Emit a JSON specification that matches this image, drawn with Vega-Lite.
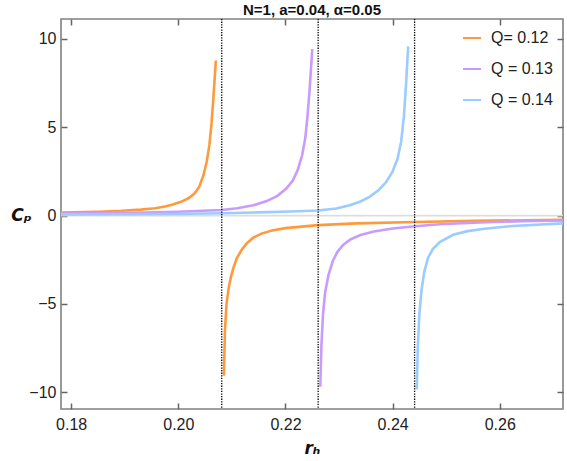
{
  "$schema": "https://vega.github.io/schema/vega-lite/v6.json",
  "autosize": {"type": "none"},
  "padding": {"left": 61, "top": 19, "right": 4, "bottom": 52},
  "width": 502,
  "height": 390,
  "background": "white",
  "title": {"text": "N=1, a=0.04, α=0.05", "fontSize": 15, "fontWeight": "bold", "font": "Liberation Sans", "color": "#111", "anchor": "middle", "offset": 0},
  "config": {
    "view": {"stroke": "#808080", "strokeWidth": 1.6},
    "axis": {"ticks": false, "labelFont": "Liberation Sans", "labelFontSize": 16, "labelColor": "#222", "grid": true, "gridColor": "#666666", "gridWidth": 1.5, "gridOpacity": 1, "titleFont": "DejaVu Sans", "domain": false}
  },
  "resolve": {"axis": {"x": "independent", "y": "independent"}},
  "layer": [
    {
      "data": {"values": [{"y": 0}]},
      "mark": {"type": "rule", "color": "#dddddd", "strokeWidth": 1.6},
      "encoding": {
        "y": {"field": "y", "type": "quantitative", "scale": {"domain": [-10.95, 11.13], "nice": false, "zero": false},
          "axis": {"orient": "left", "title": "Cₚ", "titleFontSize": 17, "titleFontWeight": "bold", "titleFontStyle": "italic", "titleColor": "#111", "titleAngle": 0, "titleX": -40, "titleY": 196, "titleAlign": "center", "titleBaseline": "middle",
            "values": [-10, -5, 0, 5, 10], "format": "d", "labelPadding": 5, "labelFlush": false, "gridDash": [6, 490]}}
      }
    },
    {
      "data": {"values": [{"y": 0}]},
      "mark": {"type": "rule", "opacity": 0},
      "encoding": {
        "y": {"field": "y", "type": "quantitative", "scale": {"domain": [-10.95, 11.13], "nice": false, "zero": false},
          "axis": {"orient": "right", "title": null, "labels": false, "gridDash": [4, 494],
            "values": [-9,-8,-7,-6,-4,-3,-2,-1,1,2,3,4,6,7,8,9,11]}}
      }
    },
    {
      "data": {"values": [
        {"r": 0.1781, "Cp": 0.17, "Q": "Q= 0.12", "b": "o1"},
        {"r": 0.1850, "Cp": 0.22, "Q": "Q= 0.12", "b": "o1"},
        {"r": 0.1894, "Cp": 0.27, "Q": "Q= 0.12", "b": "o1"},
        {"r": 0.1930, "Cp": 0.34, "Q": "Q= 0.12", "b": "o1"},
        {"r": 0.1957, "Cp": 0.42, "Q": "Q= 0.12", "b": "o1"},
        {"r": 0.1975, "Cp": 0.52, "Q": "Q= 0.12", "b": "o1"},
        {"r": 0.1988, "Cp": 0.61, "Q": "Q= 0.12", "b": "o1"},
        {"r": 0.2005, "Cp": 0.78, "Q": "Q= 0.12", "b": "o1"},
        {"r": 0.2019, "Cp": 0.98, "Q": "Q= 0.12", "b": "o1"},
        {"r": 0.2030, "Cp": 1.25, "Q": "Q= 0.12", "b": "o1"},
        {"r": 0.2039, "Cp": 1.62, "Q": "Q= 0.12", "b": "o1"},
        {"r": 0.2047, "Cp": 2.30, "Q": "Q= 0.12", "b": "o1"},
        {"r": 0.2053, "Cp": 3.05, "Q": "Q= 0.12", "b": "o1"},
        {"r": 0.2058, "Cp": 4.0, "Q": "Q= 0.12", "b": "o1"},
        {"r": 0.2062, "Cp": 5.23, "Q": "Q= 0.12", "b": "o1"},
        {"r": 0.2066, "Cp": 6.9, "Q": "Q= 0.12", "b": "o1"},
        {"r": 0.2070, "Cp": 8.78, "Q": "Q= 0.12", "b": "o1"},
        {"r": 0.2085, "Cp": -9.07, "Q": "Q= 0.12", "b": "o2"},
        {"r": 0.2087, "Cp": -6.5, "Q": "Q= 0.12", "b": "o2"},
        {"r": 0.2090, "Cp": -5.0, "Q": "Q= 0.12", "b": "o2"},
        {"r": 0.2094, "Cp": -4.1, "Q": "Q= 0.12", "b": "o2"},
        {"r": 0.2098, "Cp": -3.5, "Q": "Q= 0.12", "b": "o2"},
        {"r": 0.2103, "Cp": -2.95, "Q": "Q= 0.12", "b": "o2"},
        {"r": 0.2109, "Cp": -2.42, "Q": "Q= 0.12", "b": "o2"},
        {"r": 0.2118, "Cp": -1.95, "Q": "Q= 0.12", "b": "o2"},
        {"r": 0.2128, "Cp": -1.56, "Q": "Q= 0.12", "b": "o2"},
        {"r": 0.2140, "Cp": -1.25, "Q": "Q= 0.12", "b": "o2"},
        {"r": 0.2155, "Cp": -1.02, "Q": "Q= 0.12", "b": "o2"},
        {"r": 0.2175, "Cp": -0.84, "Q": "Q= 0.12", "b": "o2"},
        {"r": 0.2200, "Cp": -0.71, "Q": "Q= 0.12", "b": "o2"},
        {"r": 0.2261, "Cp": -0.54, "Q": "Q= 0.12", "b": "o2"},
        {"r": 0.2333, "Cp": -0.44, "Q": "Q= 0.12", "b": "o2"},
        {"r": 0.2442, "Cp": -0.36, "Q": "Q= 0.12", "b": "o2"},
        {"r": 0.2550, "Cp": -0.30, "Q": "Q= 0.12", "b": "o2"},
        {"r": 0.2650, "Cp": -0.26, "Q": "Q= 0.12", "b": "o2"},
        {"r": 0.2718, "Cp": -0.24, "Q": "Q= 0.12", "b": "o2"},
        {"r": 0.1781, "Cp": 0.11, "Q": "Q = 0.13", "b": "p1"},
        {"r": 0.1900, "Cp": 0.15, "Q": "Q = 0.13", "b": "p1"},
        {"r": 0.2000, "Cp": 0.22, "Q": "Q = 0.13", "b": "p1"},
        {"r": 0.2081, "Cp": 0.32, "Q": "Q = 0.13", "b": "p1"},
        {"r": 0.2110, "Cp": 0.42, "Q": "Q = 0.13", "b": "p1"},
        {"r": 0.2140, "Cp": 0.58, "Q": "Q = 0.13", "b": "p1"},
        {"r": 0.2165, "Cp": 0.82, "Q": "Q = 0.13", "b": "p1"},
        {"r": 0.2185, "Cp": 1.12, "Q": "Q = 0.13", "b": "p1"},
        {"r": 0.2202, "Cp": 1.55, "Q": "Q = 0.13", "b": "p1"},
        {"r": 0.2214, "Cp": 2.0, "Q": "Q = 0.13", "b": "p1"},
        {"r": 0.2223, "Cp": 2.6, "Q": "Q = 0.13", "b": "p1"},
        {"r": 0.2231, "Cp": 3.4, "Q": "Q = 0.13", "b": "p1"},
        {"r": 0.2237, "Cp": 4.4, "Q": "Q = 0.13", "b": "p1"},
        {"r": 0.2241, "Cp": 5.6, "Q": "Q = 0.13", "b": "p1"},
        {"r": 0.2245, "Cp": 7.12, "Q": "Q = 0.13", "b": "p1"},
        {"r": 0.2250, "Cp": 9.43, "Q": "Q = 0.13", "b": "p1"},
        {"r": 0.2265, "Cp": -9.69, "Q": "Q = 0.13", "b": "p2"},
        {"r": 0.2267, "Cp": -7.4, "Q": "Q = 0.13", "b": "p2"},
        {"r": 0.2270, "Cp": -5.6, "Q": "Q = 0.13", "b": "p2"},
        {"r": 0.2274, "Cp": -4.35, "Q": "Q = 0.13", "b": "p2"},
        {"r": 0.2280, "Cp": -3.4, "Q": "Q = 0.13", "b": "p2"},
        {"r": 0.2288, "Cp": -2.6, "Q": "Q = 0.13", "b": "p2"},
        {"r": 0.2297, "Cp": -2.05, "Q": "Q = 0.13", "b": "p2"},
        {"r": 0.2308, "Cp": -1.65, "Q": "Q = 0.13", "b": "p2"},
        {"r": 0.2322, "Cp": -1.34, "Q": "Q = 0.13", "b": "p2"},
        {"r": 0.2340, "Cp": -1.1, "Q": "Q = 0.13", "b": "p2"},
        {"r": 0.2365, "Cp": -0.9, "Q": "Q = 0.13", "b": "p2"},
        {"r": 0.2400, "Cp": -0.73, "Q": "Q = 0.13", "b": "p2"},
        {"r": 0.2442, "Cp": -0.6, "Q": "Q = 0.13", "b": "p2"},
        {"r": 0.2488, "Cp": -0.49, "Q": "Q = 0.13", "b": "p2"},
        {"r": 0.2562, "Cp": -0.39, "Q": "Q = 0.13", "b": "p2"},
        {"r": 0.2640, "Cp": -0.32, "Q": "Q = 0.13", "b": "p2"},
        {"r": 0.2718, "Cp": -0.28, "Q": "Q = 0.13", "b": "p2"},
        {"r": 0.1781, "Cp": 0.07, "Q": "Q = 0.14", "b": "c1"},
        {"r": 0.1900, "Cp": 0.08, "Q": "Q = 0.14", "b": "c1"},
        {"r": 0.2022, "Cp": 0.10, "Q": "Q = 0.14", "b": "c1"},
        {"r": 0.2081, "Cp": 0.13, "Q": "Q = 0.14", "b": "c1"},
        {"r": 0.2150, "Cp": 0.18, "Q": "Q = 0.14", "b": "c1"},
        {"r": 0.2210, "Cp": 0.23, "Q": "Q = 0.14", "b": "c1"},
        {"r": 0.2261, "Cp": 0.29, "Q": "Q = 0.14", "b": "c1"},
        {"r": 0.2295, "Cp": 0.40, "Q": "Q = 0.14", "b": "c1"},
        {"r": 0.2320, "Cp": 0.58, "Q": "Q = 0.14", "b": "c1"},
        {"r": 0.2340, "Cp": 0.80, "Q": "Q = 0.14", "b": "c1"},
        {"r": 0.2357, "Cp": 1.06, "Q": "Q = 0.14", "b": "c1"},
        {"r": 0.2374, "Cp": 1.45, "Q": "Q = 0.14", "b": "c1"},
        {"r": 0.2388, "Cp": 1.90, "Q": "Q = 0.14", "b": "c1"},
        {"r": 0.2400, "Cp": 2.5, "Q": "Q = 0.14", "b": "c1"},
        {"r": 0.2409, "Cp": 3.2, "Q": "Q = 0.14", "b": "c1"},
        {"r": 0.2416, "Cp": 4.2, "Q": "Q = 0.14", "b": "c1"},
        {"r": 0.2421, "Cp": 5.6, "Q": "Q = 0.14", "b": "c1"},
        {"r": 0.2425, "Cp": 7.4, "Q": "Q = 0.14", "b": "c1"},
        {"r": 0.2429, "Cp": 9.58, "Q": "Q = 0.14", "b": "c1"},
        {"r": 0.2445, "Cp": -9.84, "Q": "Q = 0.14", "b": "c2"},
        {"r": 0.2447, "Cp": -7.42, "Q": "Q = 0.14", "b": "c2"},
        {"r": 0.2450, "Cp": -5.53, "Q": "Q = 0.14", "b": "c2"},
        {"r": 0.2454, "Cp": -4.2, "Q": "Q = 0.14", "b": "c2"},
        {"r": 0.2459, "Cp": -3.2, "Q": "Q = 0.14", "b": "c2"},
        {"r": 0.2466, "Cp": -2.4, "Q": "Q = 0.14", "b": "c2"},
        {"r": 0.2475, "Cp": -1.9, "Q": "Q = 0.14", "b": "c2"},
        {"r": 0.2488, "Cp": -1.5, "Q": "Q = 0.14", "b": "c2"},
        {"r": 0.2513, "Cp": -1.09, "Q": "Q = 0.14", "b": "c2"},
        {"r": 0.2540, "Cp": -0.88, "Q": "Q = 0.14", "b": "c2"},
        {"r": 0.2575, "Cp": -0.73, "Q": "Q = 0.14", "b": "c2"},
        {"r": 0.2624, "Cp": -0.59, "Q": "Q = 0.14", "b": "c2"},
        {"r": 0.2718, "Cp": -0.44, "Q": "Q = 0.14", "b": "c2"}
      ]},
      "mark": {"type": "line", "strokeWidth": 2.6, "clip": true},
      "encoding": {
        "x": {"field": "r", "type": "quantitative", "scale": {"domain": [0.1781, 0.2718], "nice": false, "zero": false},
          "axis": {"orient": "bottom", "title": "rₕ", "titleFontSize": 17, "titleFontWeight": "bold", "titleFontStyle": "italic", "titleColor": "#111", "titleY": 44, "titleBaseline": "alphabetic",
            "values": [0.18, 0.2, 0.22, 0.24, 0.26], "format": ".2f", "labelPadding": 7, "labelFlush": false, "gridDash": [6, 378]}},
        "y": {"field": "Cp", "type": "quantitative", "scale": {"domain": [-10.95, 11.13], "nice": false, "zero": false},
          "axis": null},
        "color": {"field": "Q", "type": "nominal",
          "scale": {"domain": ["Q= 0.12", "Q = 0.13", "Q = 0.14"], "range": ["#FF9A3C", "#C99BFF", "#9CCBFF"]},
          "legend": {"title": null, "orient": "none", "legendX": 401, "legendY": 9, "padding": 0, "symbolType": "stroke", "symbolSize": 324, "symbolStrokeWidth": 2, "labelFontSize": 16, "labelFont": "Liberation Sans", "labelColor": "#222", "labelOffset": 9, "rowPadding": 13}},
        "detail": {"field": "b", "type": "nominal"}
      }
    },
    {
      "data": {"values": [{"x": 0.2081}, {"x": 0.2261}, {"x": 0.2441}]},
      "mark": {"type": "rule", "color": "#000000", "strokeWidth": 1.3, "strokeDash": [1.3, 1.3]},
      "encoding": {
        "x": {"field": "x", "type": "quantitative", "scale": {"domain": [0.1781, 0.2718], "nice": false, "zero": false},
          "axis": {"orient": "top", "title": null, "labels": false, "gridDash": [4, 382],
            "values": [0.185,0.19,0.195,0.205,0.21,0.215,0.225,0.23,0.235,0.245,0.25,0.255,0.265,0.27]}}
      }
    }
  ]
}
